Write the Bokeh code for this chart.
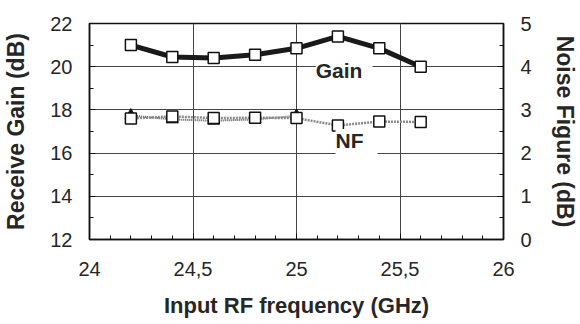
import numpy as np
from bokeh.plotting import figure
from bokeh.models import (LinearAxis, Range1d, FixedTicker, CustomJSTickFormatter, Label)
from bokeh.embed import file_html
from bokeh.resources import INLINE

# ---- data ----
freq = [24.2, 24.4, 24.6, 24.8, 25.0, 25.2, 25.4, 25.6]
gain = [21.0, 20.45, 20.4, 20.55, 20.85, 21.4, 20.85, 20.0]
nf_open = [2.80, 2.85, 2.81, 2.82, 2.81, 2.64, 2.73, 2.72]
freq_filled = [24.2, 24.4, 24.6, 24.8, 25.0]
nf_filled = [2.87, 2.78, 2.75, 2.78, 2.86]

x_ticks = [24, 24.5, 25, 25.5, 26]
gain_ticks = [12, 14, 16, 18, 20, 22]
nf_ticks = [0, 1, 2, 3, 4, 5]

TXT = "#262626"
FONT = "Liberation Sans"

p = figure(width=580, height=324, x_range=Range1d(24, 26), y_range=Range1d(12, 22),
           output_backend="svg", toolbar_location=None,
           min_border_left=89, min_border_right=75, min_border_top=23, min_border_bottom=85)
p.extra_y_ranges = {"nf": Range1d(0, 5)}
p.background_fill_color = "white"
p.border_fill_color = "white"
p.outline_line_color = "#111111"
p.outline_line_width = 1.5

# grids
p.xgrid.ticker = FixedTicker(ticks=[24.5, 25, 25.5])
p.ygrid.ticker = FixedTicker(ticks=[14, 16, 18, 20])
for g in (p.xgrid, p.ygrid):
    g.grid_line_color = "#444444"
    g.grid_line_width = 1

minor_x = [float(v) for v in np.round(np.arange(24, 26.001, 0.1), 1)]

def style_axis(ax, title_size):
    ax.axis_line_color = "#111111"
    ax.axis_line_width = 1.5
    ax.major_tick_in = 6
    ax.major_tick_out = 0
    ax.minor_tick_in = 4
    ax.minor_tick_out = 0
    ax.major_tick_line_color = "#111111"
    ax.minor_tick_line_color = "#111111"
    ax.major_label_text_font = FONT
    ax.major_label_text_font_size = "20px"
    ax.major_label_text_color = TXT
    ax.axis_label_text_font = FONT
    ax.axis_label_text_font_style = "bold"
    ax.axis_label_text_font_size = title_size
    ax.axis_label_text_color = TXT

xa = p.xaxis[0]
style_axis(xa, "22px")
xa.ticker = FixedTicker(ticks=x_ticks, minor_ticks=minor_x)
xa.formatter = CustomJSTickFormatter(code="return tick.toString().replace('.', ',');")
xa.axis_label = "Input RF frequency (GHz)"
xa.major_label_standoff = 22
xa.axis_label_standoff = 14

ya = p.yaxis[0]
style_axis(ya, "23px")
ya.ticker = FixedTicker(ticks=gain_ticks, minor_ticks=list(range(12, 23)))
ya.axis_label = "Receive Gain (dB)"
ya.major_label_standoff = 17
ya.axis_label_standoff = 18

ra = LinearAxis(y_range_name="nf", axis_label="Noise Figure (dB)")
style_axis(ra, "23px")
ra.ticker = FixedTicker(ticks=nf_ticks, minor_ticks=[v * 0.5 for v in range(11)])
ra.major_label_standoff = 17
ra.axis_label_standoff = 17
p.add_layout(ra, "right")

# Gain curve
p.line(freq, gain, line_width=5, line_color="#1a1a1a", line_join="round")
p.scatter(freq, gain, marker="square", size=11, fill_color="white",
          line_color="#111111", line_width=1.5)

# NF curves
p.line(freq_filled, nf_filled, y_range_name="nf", line_width=2, line_color="#555555",
       line_dash="1 1")
p.scatter(freq_filled, nf_filled, y_range_name="nf", marker="triangle", size=12,
          fill_color="#111111", line_color="#111111")
p.line(freq, nf_open, y_range_name="nf", line_width=2.5, line_color="#8a8a8a",
       line_dash="2 1")
p.scatter(freq, nf_open, y_range_name="nf", marker="square", size=11, fill_color="white",
          line_color="#111111", line_width=1.5)

# Curve labels
for txt, lx, ly, pad in (("Gain", 25.23, 19.6, (0, 10, 0, 10)), ("NF", 25.29, 16.26, (0, 14, 0, 14))):
    p.add_layout(Label(x=lx, y=ly, text=txt, text_align="center", text_baseline="middle",
                       text_font=FONT, text_font_style="bold", text_font_size="21px",
                       text_color=TXT, background_fill_color="white", padding=pad))

open("out.html", "w").write(file_html(p, INLINE))
